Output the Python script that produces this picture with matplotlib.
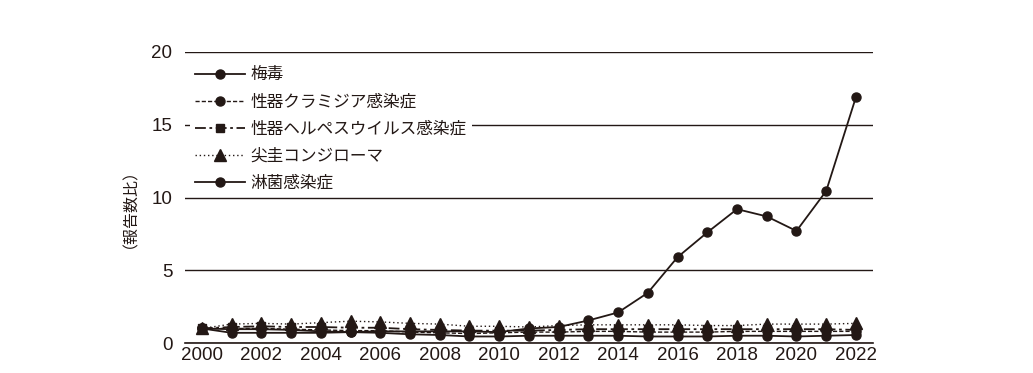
import matplotlib
matplotlib.use("Agg")
import matplotlib.pyplot as plt
import numpy as np

plt.rcParams['font.family'] = ['Liberation Sans', 'Noto Sans CJK JP', 'DejaVu Sans']

years = list(range(2000, 2023))

syphilis = [1.0, 0.7, 0.7, 0.7, 0.7, 0.75, 0.8, 0.8, 0.8, 0.8, 0.75, 1.0, 1.1,
            1.55, 2.1, 3.45, 5.9, 7.6, 9.2, 8.7, 7.7, 10.45, 16.9]
chlamydia = [1.0, 1.0, 1.0, 0.95, 0.9, 0.85, 0.85, 0.75, 0.7, 0.65, 0.7, 0.75,
             0.75, 0.8, 0.8, 0.75, 0.75, 0.75, 0.8, 0.8, 0.8, 0.8, 0.8]
herpes = [1.0, 1.1, 1.15, 1.1, 1.1, 1.05, 1.05, 0.95, 0.9, 0.85, 0.85, 0.85,
          0.9, 0.95, 0.95, 0.95, 0.95, 0.95, 0.95, 0.95, 0.95, 0.95, 0.9]
condyloma = [1.0, 1.3, 1.35, 1.3, 1.4, 1.5, 1.45, 1.35, 1.3, 1.15, 1.15, 1.1,
             1.2, 1.25, 1.25, 1.25, 1.25, 1.2, 1.2, 1.3, 1.3, 1.3, 1.35]
gonorrhea = [1.0, 0.95, 0.95, 0.9, 0.8, 0.75, 0.7, 0.6, 0.55, 0.45, 0.45, 0.5,
             0.5, 0.5, 0.5, 0.45, 0.45, 0.45, 0.5, 0.5, 0.45, 0.5, 0.55]

labels = ['梅毒', '性器クラミジア感染症', '性器ヘルペスウイルス感染症', '尖圭コンジローマ', '淋菌感染症']

ink = '#231815'

fig = plt.figure(figsize=(10.33, 3.73), dpi=100)
ax = fig.add_axes([0.179, 0.0804, 0.666, 0.7802])

lw = 1.3
h1, = ax.plot(years, syphilis, '-', marker='o', ms=6.5, color=ink, lw=lw, zorder=6)
h2, = ax.plot(years, chlamydia, linestyle=(0, (3, 1.5)), marker='o', ms=6.5, color=ink, lw=1.0, zorder=4)
h3, = ax.plot(years, herpes, linestyle=(0, (6, 2, 1.5, 2)), marker='s', ms=6, color=ink, lw=1.3, zorder=3)
h4, = ax.plot(years, condyloma, linestyle=(0, (1, 2)), marker='^', ms=8, color=ink, lw=1.0, zorder=2)
h5, = ax.plot(years, gonorrhea, '-', marker='o', ms=6.5, color=ink, lw=lw, zorder=5)

ax.set_xlim(1999.43, 2022.57)
ax.set_ylim(0, 20)
ax.set_xticks(range(2000, 2023, 2))
ax.set_yticks([0, 5, 10, 15, 20])
ax.tick_params(length=0, labelsize=13.5, colors=ink)
ax.tick_params(axis='y', pad=9)
ax.tick_params(axis='x', pad=3)
ax.yaxis.grid(True, color=ink, lw=1.0)
ax.set_axisbelow(True)
for s in ['top', 'right', 'left']:
    ax.spines[s].set_visible(False)
ax.spines['bottom'].set_color(ink)
ax.spines['bottom'].set_linewidth(1.2)

ax.set_ylabel('（報告数比）', fontsize=11.5, color=ink, family=['Noto Sans CJK JP'])
ax.yaxis.set_label_coords(-0.08, 0.49)

leg = ax.legend([h1, h2, h3, h4, h5], labels, loc='upper left',
                bbox_to_anchor=(0.0, 0.985), frameon=True, fancybox=False,
                edgecolor='none', facecolor='white', framealpha=1.0,
                prop={'family': ['Noto Sans CJK JP'], 'size': 12},
                handlelength=3.0, labelspacing=0.6, borderpad=0.3,
                handletextpad=0.35, borderaxespad=0.3)
for t in leg.get_texts():
    t.set_color(ink)

fig.savefig('out.png', dpi=100)
